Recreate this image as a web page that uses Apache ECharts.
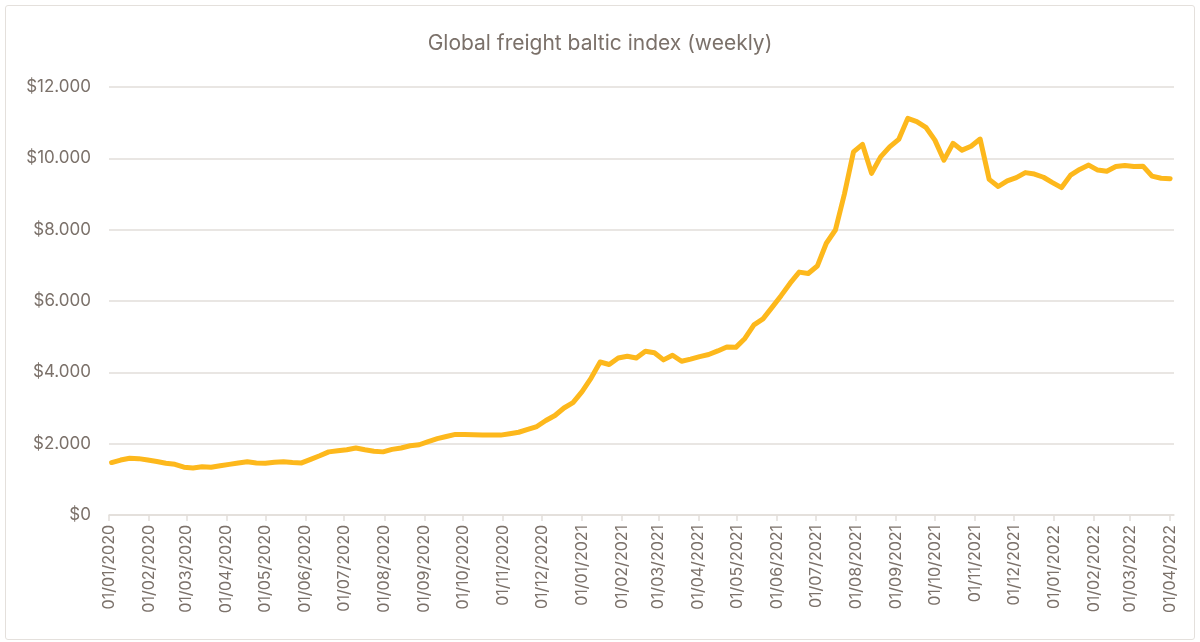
<!DOCTYPE html>
<html>
<head>
<meta charset="utf-8">
<script src="https://cdn.jsdelivr.net/npm/echarts@6/dist/echarts.min.js"></script>
<style>
  html, body { margin: 0; padding: 0; background: #fff; }
  #chart { width: 1200px; height: 642px; }
  #frame { position: absolute; left: 5px; top: 5px; width: 1188px; height: 633px;
           border: 1px solid #e4e0dc; border-radius: 3px; pointer-events: none; }
</style>
</head>
<body>
<div id="chart"></div>
<div id="frame"></div>
<script>
// weekly index, first reading on 03/01/2020
const firstWeek = [2020, 0, 3]
const weeklyIndex = [
  1470, 1540, 1590, 1580, 1540, 1500, 1450, 1420, 1340, 1320,
  1350, 1340, 1380, 1420, 1460, 1490, 1460, 1450, 1480, 1490,
  1470, 1460, 1560, 1660, 1770, 1800, 1830, 1880, 1830, 1790,
  1770, 1840, 1880, 1940, 1970, 2060, 2140, 2200, 2260, 2260,
  2250, 2240, 2240, 2240, 2280, 2320, 2400, 2480, 2650, 2790,
  3000, 3150, 3460, 3840, 4290, 4220, 4400, 4450, 4400, 4590,
  4550, 4350, 4480, 4310, 4370, 4440, 4500, 4600, 4710, 4700,
  4950, 5330, 5500, 5820, 6150, 6500, 6810, 6770, 6980, 7620,
  7990, 9000, 10180, 10390, 9580, 10040, 10320, 10530, 11120, 11030,
  10870, 10510, 9950, 10420, 10230, 10340, 10540, 9410, 9210, 9370,
  9460, 9600, 9560, 9470, 9320, 9180, 9530, 9690, 9810, 9670,
  9640, 9770, 9800, 9770, 9780, 9500, 9440, 9430
]
// month-start tick labels, 01/01/2020 .. 01/04/2022
const tickMonths = []
for (let y = 2020, m = 0; y < 2022 || (y === 2022 && m <= 3); m++) {
  if (m > 11) { m = 0; y++ }
  tickMonths.push(new Date(y, m, 1).getTime())
}

const textColor = '#7b716a'
const lineGray = '#e2deda'

const seriesData = weeklyIndex.map((v, i) => {
  const d = new Date(firstWeek[0], firstWeek[1], firstWeek[2] + i * 7)
  return [d.getTime(), v]
})

const pad = n => (n < 10 ? '0' : '') + n

const chart = echarts.init(document.getElementById('chart'))
chart.setOption({
  animation: false,
  textStyle: { fontFamily: 'Inter' },
  title: {
    text: 'Global freight baltic index (weekly)',
    left: 'center',
    top: 28,
    textStyle: { color: textColor, fontSize: 21, fontWeight: 'normal', fontFamily: 'Inter' }
  },
  grid: { left: 109, right: 26, top: 87, bottom: 127 },
  xAxis: {
    // timestamps on a plain value axis, ticks at month starts
    type: 'value',
    min: new Date(2020, 0, 1).getTime(),
    max: new Date(2022, 3, 4).getTime(),
    axisLine: { lineStyle: { color: lineGray, width: 1.5 } },
    axisTick: { show: true, customValues: tickMonths, length: 6, lineStyle: { color: lineGray, width: 1.5 } },
    splitLine: { show: false },
    axisLabel: {
      customValues: tickMonths,
      rotate: 90,
      margin: 10,
      color: textColor,
      fontSize: 16,
      fontFamily: 'Inter',
      formatter: v => {
        const d = new Date(v)
        return '01/' + pad(d.getMonth() + 1) + '/' + d.getFullYear()
      }
    }
  },
  yAxis: {
    type: 'value',
    min: 0,
    max: 12000,
    interval: 2000,
    axisLine: { show: false },
    axisTick: { show: false },
    splitLine: { lineStyle: { color: lineGray, width: 1.5 } },
    axisLabel: {
      color: textColor,
      fontSize: 17,
      margin: 18,
      fontFamily: 'Inter',
      formatter: v => (v === 0 ? '$0' : '$' + (v / 1000).toFixed(3))
    }
  },
  series: [{
    type: 'line',
    data: seriesData,
    showSymbol: false,
    lineStyle: { color: '#fdb81c', width: 5, join: 'round', cap: 'round' },
    itemStyle: { color: '#fdb81c' }
  }]
})
</script>
</body>
</html>
